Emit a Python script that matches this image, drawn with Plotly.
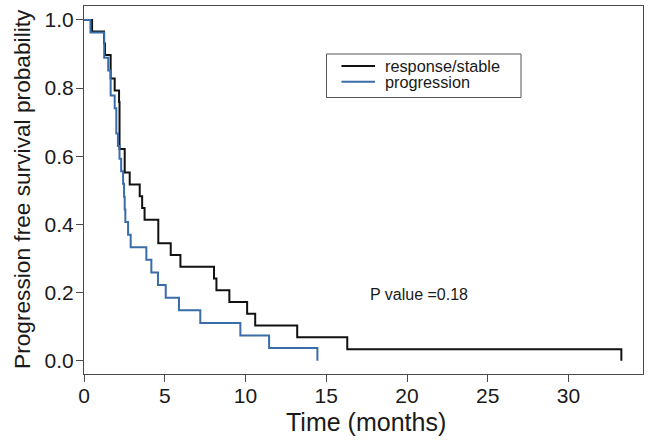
import plotly.graph_objects as go

# Kaplan-Meier step curves (time in months, survival probability)
resp_time = [0, 0.5, 1.24, 1.3, 1.65, 1.9, 2.17, 2.2, 2.52, 2.83, 3.45, 3.6, 3.75, 4.6,
             5.37, 5.97, 8.05, 8.2, 9.0, 10.1, 10.6, 13.2, 16.3, 33.27]
resp_surv = [1.0, 0.966, 0.931, 0.897, 0.828, 0.793, 0.759, 0.621, 0.552, 0.517, 0.483,
             0.448, 0.414, 0.345, 0.310, 0.276, 0.241, 0.207, 0.172, 0.138, 0.103, 0.069,
             0.034, 0.0]

prog_time = [0, 0.4, 1.25, 1.5, 1.65, 1.9, 2.0, 2.1, 2.2, 2.3, 2.42, 2.48, 2.52, 2.56,
             2.73, 2.89, 3.86, 4.17, 4.58, 5.06, 5.88, 7.2, 9.68, 11.46, 14.45]
prog_surv = [1.0, 0.963, 0.889, 0.852, 0.778, 0.741, 0.667, 0.630, 0.593, 0.556, 0.519,
             0.481, 0.444, 0.407, 0.370, 0.333, 0.296, 0.259, 0.222, 0.185, 0.148, 0.111,
             0.074, 0.037, 0.0]

series_names = ["response/stable", "progression"]
series_colors = ["#111111", "#3a6ca8"]
x_ticks = [0, 5, 10, 15, 20, 25, 30]
y_ticks = [0.0, 0.2, 0.4, 0.6, 0.8, 1.0]
y_tick_labels = ["0.0", "0.2", "0.4", "0.6", "0.8", "1.0"]
p_text = "P value =0.18"
x_title = "Time (months)"
y_title = "Progression free survival probability"

FONT = "Liberation Sans, Arial, Helvetica, sans-serif"
AXIS_COLOR = "#4a4a4a"
TEXT_COLOR = "#1a1a1a"

W, H = 649, 442
ML, MR, MT, MB = 84, 6, 6, 68
PW, PH = W - ML - MR, H - MT - MB


def px_to_paper_x(px):
    return (px - ML) / PW


def px_to_paper_y(py):
    return (H - MB - py) / PH


fig = go.Figure()
for t, s, name, col in [(resp_time, resp_surv, series_names[0], series_colors[0]),
                        (prog_time, prog_surv, series_names[1], series_colors[1])]:
    fig.add_trace(go.Scatter(x=t, y=s, mode="lines", name=name, showlegend=False,
                             line=dict(color=col, width=2, shape="hv")))

fig.add_annotation(x=17.6, y=0.194, xref="x", yref="y", text=p_text, showarrow=False,
                   xanchor="left", yanchor="middle",
                   font=dict(family=FONT, size=16, color=TEXT_COLOR))

# legend box (drawn manually to match the compact R-style legend)
fig.add_shape(type="rect", xref="paper", yref="paper",
              x0=px_to_paper_x(326.5), x1=px_to_paper_x(521),
              y0=px_to_paper_y(97.5), y1=px_to_paper_y(54),
              line=dict(color="#555555", width=1), fillcolor="white", layer="above")
for i, (name, col) in enumerate(zip(series_names, series_colors)):
    yy = px_to_paper_y(66 + i * 15.7)
    fig.add_shape(type="line", xref="paper", yref="paper",
                  x0=px_to_paper_x(341.5), x1=px_to_paper_x(375), y0=yy, y1=yy,
                  line=dict(color=col, width=2), layer="above")
    fig.add_annotation(x=px_to_paper_x(384), y=yy, xref="paper", yref="paper",
                       text=name, showarrow=False, xanchor="left", yanchor="middle",
                       borderpad=0,
                       font=dict(family=FONT, size=16.3, color=TEXT_COLOR))

# axis titles
fig.add_annotation(x=px_to_paper_x(366), y=px_to_paper_y(422), xref="paper", yref="paper",
                   text=x_title, showarrow=False, xanchor="center", yanchor="middle",
                   font=dict(family=FONT, size=25, color=TEXT_COLOR))
fig.add_annotation(x=px_to_paper_x(22), y=px_to_paper_y(189), xref="paper", yref="paper",
                   text=y_title, showarrow=False, xanchor="center", yanchor="middle",
                   textangle=-90, font=dict(family=FONT, size=22.7, color=TEXT_COLOR))

fig.update_layout(
    width=W, height=H,
    margin=dict(l=ML, r=MR, t=MT, b=MB),
    paper_bgcolor="white", plot_bgcolor="white",
    font=dict(family=FONT, color=TEXT_COLOR),
    showlegend=False,
    xaxis=dict(range=[0, 34.61], tickvals=x_ticks, ticks="outside", ticklen=7,
               tickcolor=AXIS_COLOR, showline=True, linecolor=AXIS_COLOR, linewidth=1,
               mirror=True, showgrid=False, zeroline=False, automargin=False,
               ticklabelstandoff=-4,
               tickfont=dict(family=FONT, size=21, color=TEXT_COLOR)),
    yaxis=dict(range=[-0.039, 1.041], tickvals=y_ticks, ticktext=y_tick_labels,
               ticks="outside", ticklen=7, tickcolor=AXIS_COLOR, showline=True,
               linecolor=AXIS_COLOR, linewidth=1, mirror=True, showgrid=False,
               zeroline=False, automargin=False, ticklabelstandoff=-2,
               tickfont=dict(family=FONT, size=21, color=TEXT_COLOR)),
)

fig.write_html("out.html", config={"displayModeBar": False},
               post_script="document.body.style.margin='0';document.body.style.padding='0';")
